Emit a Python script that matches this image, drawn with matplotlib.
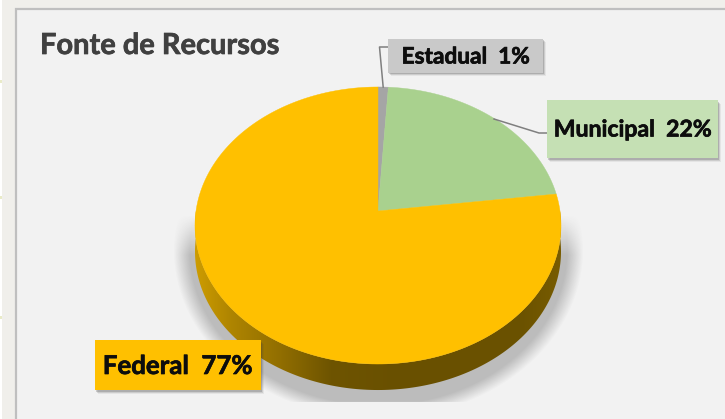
import numpy as np
import matplotlib
matplotlib.use("Agg")
import matplotlib.pyplot as plt
import matplotlib.patheffects as pe
from matplotlib.patches import Rectangle, Polygon

# dados do grafico
categories = ["Estadual", "Municipal", "Federal"]
values = [1, 22, 77]
slice_colors = ["#A5A5A5", "#A9D18E", "#FFC000"]
box_colors = ["#C9C9C9", "#C5E0B4", "#FFC000"]
title = "Fonte de Recursos"

plt.rcParams["font.family"] = ["Lato", "DejaVu Sans"]

fig = plt.figure(figsize=(7.25, 4.19), dpi=100, facecolor="#F0EFEB")
ax = fig.add_axes([0, 0, 1, 1])
ax.set_xlim(0, 725)
ax.set_ylim(419, 0)
ax.axis("off")

# painel
ax.add_patch(Rectangle((16, 9), 720, 420, fc="#F2F2F2", ec="#BFBFBF", lw=1.6, zorder=1))
ax.add_patch(Rectangle((0, 0), 2, 419, fc="#FFFFFF", ec="none", zorder=1))
for y in [80, 196, 316]:
    ax.add_patch(Rectangle((0, y), 2, 3, fc="#E9EBC8", ec="none", zorder=1))

# centro do setor e perspectiva do disco
cx, cy = 378, 211
k = 0.1047
a, b = 182, 137
depth = 26


def project(theta):
    # theta em radianos, sentido horario a partir do topo
    u, v = np.sin(theta), np.cos(theta)
    return cx + a * u / (1 + k * v), cy - b * v / (1 + k * v)


# sombra do disco
yy, xx = np.mgrid[0:419, 0:725]
d = np.sqrt(((xx - 378) / 205.0) ** 2 + ((yy - 250) / 168.0) ** 2)
alpha = np.clip((1 - d) / 0.08, 0, 1)
alpha *= np.clip((yy - 215) / 40.0, 0, 1)
alpha[yy > 401] = 0
shadow = np.zeros((419, 725, 4))
shadow[..., :3] = 0.25
shadow[..., 3] = alpha * 0.30
ax.imshow(shadow, extent=(0, 725, 419, 0), aspect="auto", zorder=2, interpolation="bilinear")

# lateral do disco com gradiente
t = np.linspace(0, 2 * np.pi, 361)
ex, ey = project(t)
wall_x = np.r_[ex[90:271], ex[90:271][::-1]]
wall_y = np.r_[ey[90:271], ey[90:271][::-1] + depth]
stops_x = [195, 230, 280, 330, 400, 520, 561]
stops_r = [205, 175, 145, 110, 105, 107, 120]
stops_g = [156, 133, 110, 84, 80, 82, 92]
gx = np.arange(725)
grad = np.zeros((1, 725, 3))
grad[0, :, 0] = np.interp(gx, stops_x, stops_r) / 255
grad[0, :, 1] = np.interp(gx, stops_x, stops_g) / 255
im = ax.imshow(grad, extent=(0, 725, 419, 0), aspect="auto", zorder=3)
wall = Polygon(np.c_[wall_x, wall_y], closed=True, fc="none", ec="none", zorder=3)
ax.add_patch(wall)
im.set_clip_path(wall)

# setores a partir dos valores
fractions = np.cumsum([0] + values) / sum(values)
mids = []
for i, col in enumerate(slice_colors):
    th = np.linspace(fractions[i], fractions[i + 1], 200) * 2 * np.pi
    px, py = project(th)
    ax.add_patch(Polygon(np.c_[np.r_[cx, px], np.r_[cy, py]], closed=True, fc=col, ec=col, lw=0.3, zorder=4))
    mids.append(project((fractions[i] + fractions[i + 1]) * np.pi))

# linhas de chamada
ax.plot([388, 379.5, mids[0][0]], [47, 47, mids[0][1]], color="#7F7F7F", lw=1.1, zorder=5)
ax.plot([494, 539, 547], [119, 133, 133], color="#7F7F7F", lw=1.1, zorder=5)

# rotulos
boxes = [(388, 39, 155, 34), (547, 100, 171, 58), (95, 340, 166, 50)]
sizes = [16.3, 16.6, 18.6]
text_y = [57, 130, 366]
for (x, y, w, h), name, val, col, fs, ty in zip(boxes, categories, values, box_colors, sizes, text_y):
    for off, al in [(3.5, 0.08), (2.5, 0.14), (1.5, 0.22)]:
        ax.add_patch(Rectangle((x + off, y + off), w, h, fc="#404040", ec="none", alpha=al, zorder=6))
    ax.add_patch(Rectangle((x, y), w, h, fc=col, ec="none", zorder=7))
    ax.text(x + w / 2, ty, f"{name}  {val}%", ha="center", va="center", fontsize=fs,
            fontweight="bold", color="#0D0D0D", zorder=8,
            path_effects=[pe.withStroke(linewidth=0.5, foreground="#0D0D0D")])

ax.text(40, 46, title, ha="left", va="center", fontsize=20.9, fontweight="bold", color="#404040", zorder=8,
        path_effects=[pe.withStroke(linewidth=0.5, foreground="#404040")])

fig.savefig("out.png", dpi=100, facecolor=fig.get_facecolor())
